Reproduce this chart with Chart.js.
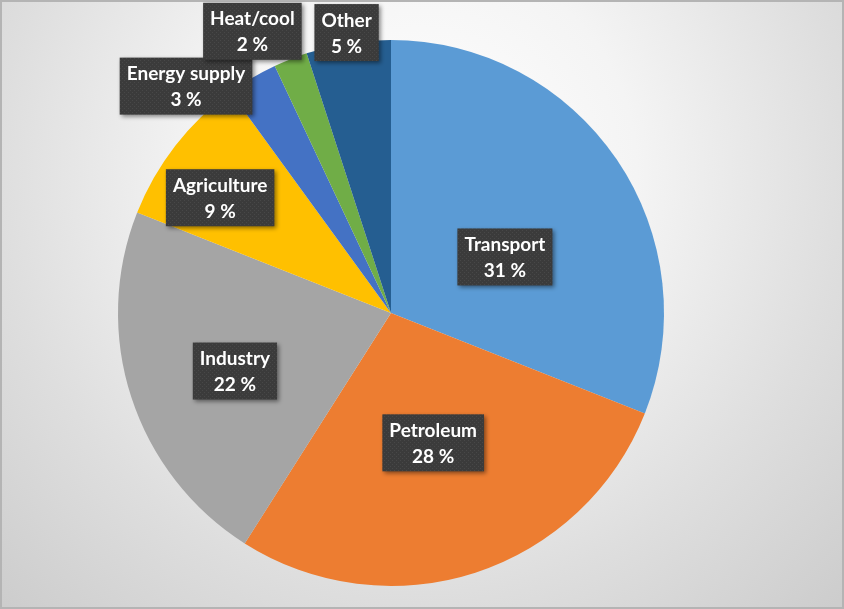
<!DOCTYPE html>
<html>
<head>
<meta charset="utf-8">
<script src="https://cdn.jsdelivr.net/npm/chart.js@4.4.1/dist/chart.umd.min.js"></script>
<style>
  html, body { margin: 0; padding: 0; background: #d8d8d8; }
  #wrap { width: 844px; height: 609px; position: relative; }
</style>
</head>
<body>
<div id="wrap"><canvas id="chart" width="844" height="609"></canvas></div>
<script>
// data
const sectors = ['Transport', 'Petroleum', 'Industry', 'Agriculture', 'Energy supply', 'Heat/cool', 'Other'];
const shares = [31, 28, 22, 9, 3, 2, 5];
const sliceColors = ['#5B9BD5', '#ED7D31', '#A5A5A5', '#FFC000', '#4472C4', '#70AD47', '#255E91'];

// label placement: fraction of radius + angle nudge (deg), per slice
const labelPlace = [
    { r: 0.465, da: 8 },
    { r: 0.50, da: 0 },
    { r: 0.61, da: -2.4 },
    { r: 0.755, da: -3.8 },
    { r: 1.12, da: -11.5 },
    { r: 1.15, da: -4.6 },
    { r: 1.04, da: 0 }
];

// small dotted texture for the label boxes
function makeTexture(ctx) {
    const c = document.createElement('canvas');
    c.width = 4; c.height = 4;
    const t = c.getContext('2d');
    t.fillStyle = '#3b3b3b';
    t.fillRect(0, 0, 4, 4);
    t.fillStyle = '#484848';
    t.fillRect(0, 0, 1, 1);
    t.fillRect(2, 2, 1, 1);
    return ctx.createPattern(c, 'repeat');
}

const background = {
    id: 'background',
    beforeDraw(chart) {
        const { ctx, width, height } = chart;
        ctx.save();
        const g = ctx.createRadialGradient(420, 170, 10, 420, 170, 600);
        g.addColorStop(0, '#ffffff');
        g.addColorStop(0.35, '#f4f4f4');
        g.addColorStop(0.7, '#dedede');
        g.addColorStop(1, '#cdcdcd');
        ctx.fillStyle = g;
        ctx.fillRect(0, 0, width, height);
        ctx.strokeStyle = '#b4b4b4';
        ctx.lineWidth = 2;
        ctx.strokeRect(1, 1, width - 2, height - 2);
        ctx.restore();
    }
};

const boxLabels = {
    id: 'boxLabels',
    afterDatasetsDraw(chart) {
        const { ctx } = chart;
        const meta = chart.getDatasetMeta(0);
        const pattern = makeTexture(ctx);
        ctx.save();
        ctx.font = 'bold 19px Lato, "Open Sans", sans-serif';
        ctx.textAlign = 'center';
        ctx.textBaseline = 'middle';
        meta.data.forEach((arc, i) => {
            const p = labelPlace[i];
            const mid = (arc.startAngle + arc.endAngle) / 2 + p.da * Math.PI / 180;
            let x = arc.x + Math.cos(mid) * arc.outerRadius * p.r;
            let y = arc.y + Math.sin(mid) * arc.outerRadius * p.r;
            const line1 = sectors[i];
            const line2 = shares[i] + ' %';
            const w = Math.max(ctx.measureText(line1).width, ctx.measureText(line2).width) + 14;
            const h = 57;
            // keep the box inside the canvas like the original
            x = Math.max(w / 2 + 2, Math.min(chart.width - w / 2 - 2, x));
            y = Math.max(h / 2 + 2, Math.min(chart.height - h / 2 - 2, y));
            const bx = x - w / 2, by = y - h / 2;
            ctx.shadowColor = 'rgba(0,0,0,0.45)';
            ctx.shadowBlur = 4;
            ctx.shadowOffsetX = 2;
            ctx.shadowOffsetY = 2;
            ctx.fillStyle = pattern;
            ctx.fillRect(bx, by, w, h);
            ctx.shadowColor = 'transparent';
            ctx.fillStyle = '#ffffff';
            ctx.fillText(line1, x, y - 12);
            ctx.fillText(line2, x, y + 14);
        });
        ctx.restore();
    }
};

new Chart(document.getElementById('chart'), {
    type: 'pie',
    data: {
        labels: sectors,
        datasets: [{
            data: shares,
            backgroundColor: sliceColors,
            borderWidth: 0
        }]
    },
    options: {
        responsive: false,
        animation: false,
        layout: { padding: { left: 118, right: 180, top: 40, bottom: 23 } },
        plugins: {
            legend: { display: false },
            tooltip: { enabled: false }
        }
    },
    plugins: [background, boxLabels]
});
</script>
</body>
</html>
